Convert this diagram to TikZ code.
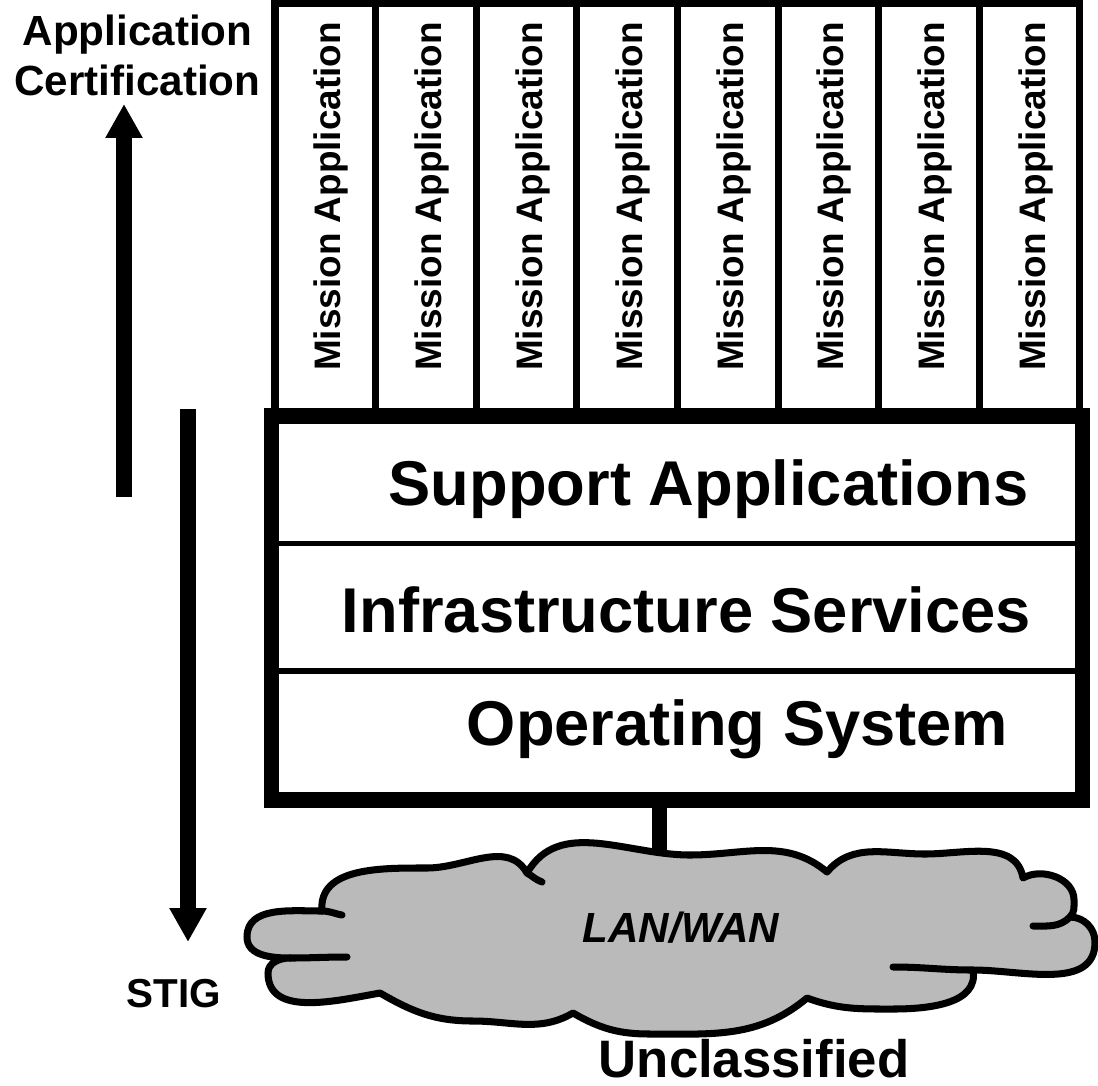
\documentclass[tikz,border=0pt]{standalone}
\usepackage{fontspec}
\setmainfont{Liberation Sans}
\usetikzlibrary{positioning, arrows.meta}

\begin{document}
\begin{tikzpicture}
\tikzstyle{appcol}=[rectangle, draw=black, line width=2pt, minimum width=10.06mm, minimum height=41.25mm, inner sep=0pt]
\tikzstyle{apptext}=[rotate=90, anchor=base, font=\fontsize{10.5}{12}\selectfont\bfseries]
\tikzstyle{tier}=[rectangle, draw=black, line width=1.5pt, minimum width=81.1mm, inner sep=0pt, outer sep=0pt]
\tikzstyle{tiertext}=[anchor=base, font=\fontsize{18}{21}\selectfont\bfseries]
\tikzstyle{lbl}=[anchor=base, font=\fontsize{12}{14.2}\selectfont\bfseries]
\tikzstyle{bigarrow}=[line width=1.65mm, -{Triangle[width=3.5mm, length=3.4mm]}]
\tikzstyle{cloudy}=[draw=black, line width=2pt, fill=black!27, line join=round]
\tikzstyle{tail}=[line width=2pt, line cap=round]
\useasboundingbox (0,0) rectangle (10.98,10.85);
% 1. Mission applications
%%%%%%%%%%%%%%%%%%%%%%%%%
\foreach \i in {1,...,8} {
  \node[appcol] (app\i) at ({3.253+(\i-1)*1.006}, 8.7525) {};
  \node[apptext] (apptxt\i) at ({3.408+(\i-1)*1.006}, 8.885) {Mission Application};
}
% 2. Tiers
%%%%%%%%%%
\node[tier, minimum height=12.75mm] (sup) at (6.77, 6.0525) {};
\node[tier, minimum height=12.75mm, below=0pt of sup] (inf) {};
\node[tier, minimum height=12.9mm, below=0pt of inf] (os) {};
\draw[line width=4.5pt] (sup.north west) rectangle (os.south east);

\node[tiertext] (suptxt) at (7.085, 5.80) {Support Applications};
\node[tiertext] (inftxt) at (6.865, 4.53) {Infrastructure Services};
\node[tiertext] (ostxt) at (7.375, 3.40) {Operating System};
% 3. Network
%%%%%%%%%%%%
\coordinate (lan) at (6.595, 2.15);
\draw[line width=4.2pt] (os.south -| lan) -- (lan);

\draw[cloudy] (3.22,1.74)
  to[out=95,in=180] (4.27,2.17)
  to[out=0,in=120] (5.27,2.12)
  to[out=60,in=180] (6.90,2.30)
  to[out=0,in=140] (8.27,2.13)
  to[out=50,in=180] (9.25,2.31)
  to[out=0,in=100] (10.23,2.07)
  to[out=30,in=90] (10.74,1.85)
  to[out=-90,in=45] (10.70,1.68)
  to[out=0,in=90] (10.95,1.43)
  to[out=-90,in=0] (9.73,1.15)
  to[out=-80,in=0] (8.93,0.76)
  to[out=180,in=-20] (8.07,0.87)
  to[out=-140,in=0] (6.50,0.51)
  to[out=180,in=-30] (5.73,0.72)
  to[out=-150,in=0] (4.73,0.64)
  to[out=180,in=-30] (3.80,0.92)
  to[out=-170,in=-90] (2.68,1.12)
  to[out=90,in=180] (2.90,1.27)
  to[out=180,in=-90] (2.47,1.48)
  to[out=90,in=180] (3.22,1.74) -- cycle;
\draw[tail] (3.22,1.74) to[out=0,in=170] (3.42,1.70);
\draw[tail] (5.27,2.12) to[out=-30,in=160] (5.42,2.03);
\draw[tail] (10.70,1.68) to[out=-135,in=0] (10.33,1.59);
\draw[tail] (9.73,1.15) to[out=180,in=0] (8.93,1.18);
\draw[tail] (2.90,1.27) to[out=0,in=180] (3.47,1.28);

\node[lbl, font=\fontsize{12}{14}\selectfont\bfseries\itshape] (lantxt) at (6.81, 1.43) {LAN/WAN};
\node[lbl, font=\fontsize{15}{18}\selectfont\bfseries] (uncl) at (7.54, 0.08) {Unclassified};
% 4. Certification arrows
%%%%%%%%%%%%%%%%%%%%%%%%%
\node[lbl, align=center, anchor=center] (cert) at (1.375, 10.30) {Application\\Certification};
\node[lbl, font=\fontsize{11.5}{13}\selectfont\bfseries] (stig) at (1.74, 0.78) {STIG};

\coordinate (upfoot) at (1.24, 5.88);
\coordinate (uptip) at (1.24, 9.81);
\coordinate (dntop) at (1.88, 6.76);
\coordinate (dntip) at (1.88, 1.43);
\draw[bigarrow] (upfoot) -- (uptip);
\draw[bigarrow] (dntop) -- (dntip);

\end{tikzpicture}
\end{document}
